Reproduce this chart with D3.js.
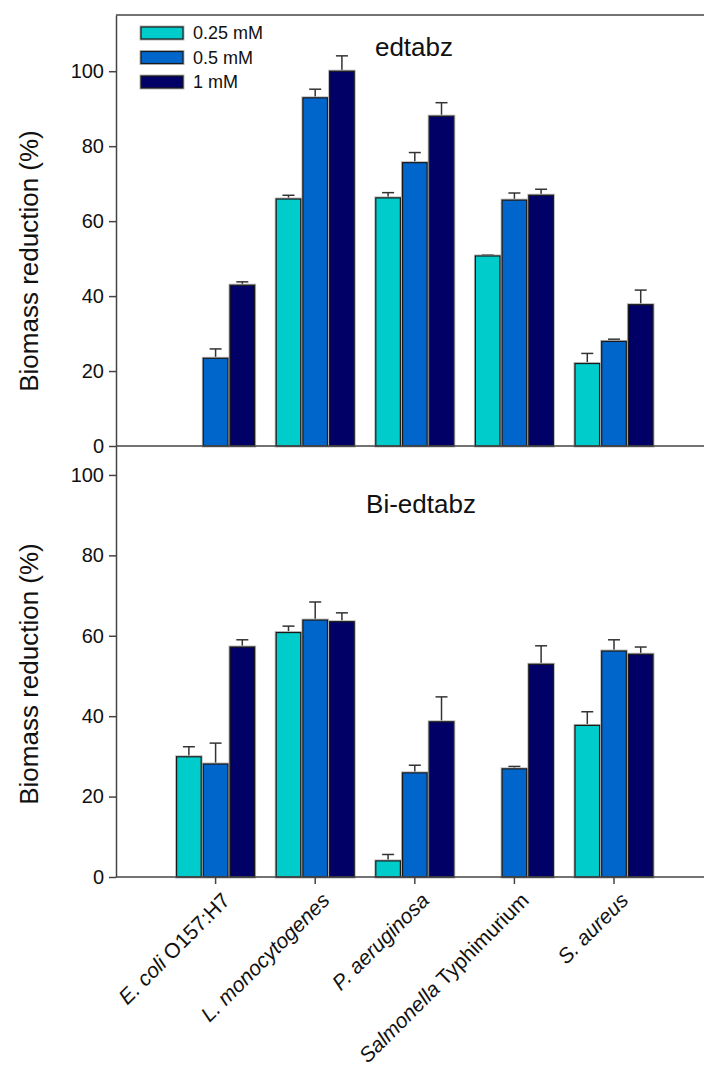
<!DOCTYPE html>
<html>
<head>
<meta charset="utf-8">
<script src="https://cdn.jsdelivr.net/npm/d3@7"></script>
<style>
  html, body { margin: 0; padding: 0; background: #fff; }
  svg { display: block; font-family: Arial, "Liberation Sans", sans-serif; }
</style>
</head>
<body>
<svg id="chart" width="704" height="1070"></svg>
<script>
// Bacterial strains (label split into italic / upright parts)
const strains = ["E. coli O157:H7", "L. monocytogenes", "P. aeruginosa", "Salmonella Typhimurium", "S. aureus"];
const strainItalic = ["E. coli", "L. monocytogenes", "P. aeruginosa", "Salmonella", "S. aureus"];
const strainUpright = [" O157:H7", "", "", " Typhimurium", ""];

// Concentrations
const concentrations = ["0.25 mM", "0.5 mM", "1 mM"];
const colors = ["#00CCCC", "#0066CC", "#000066"];

// edtabz — biomass reduction (%) and error
const edtabz025 = [null, 65.9, 66.2, 50.7, 22.0];
const edtabz05  = [23.4, 92.9, 75.6, 65.6, 27.9];
const edtabz1   = [42.9, 100.0, 88.0, 66.9, 37.7];
const edtabz025Err = [null, 1.0, 1.4, 0.3, 2.7];
const edtabz05Err  = [2.5, 2.3, 2.7, 1.9, 0.6];
const edtabz1Err   = [0.9, 4.1, 3.6, 1.6, 3.9];

// Bi-edtabz — biomass reduction (%) and error
const bi025 = [29.9, 60.8, 4.0, null, 37.7];
const bi05  = [28.1, 63.9, 25.9, 26.9, 56.2];
const bi1   = [57.2, 63.5, 38.6, 52.9, 55.4];
const bi025Err = [2.5, 1.6, 1.6, null, 3.4];
const bi05Err  = [5.2, 4.5, 1.9, 0.6, 2.8];
const bi1Err   = [1.8, 2.2, 6.2, 4.6, 1.8];

const yTicks = [0, 20, 40, 60, 80, 100];

const svg = d3.select("#chart");
const left = 116, right = 704;

const x = d3.scaleLinear().domain([0, 6]).range([left, 713.6]);
const inner = d3.scaleBand().domain(concentrations).range([-39, 39]).paddingInner(0.08);

function panel(cfg) {
  const y = d3.scaleLinear().domain([0, cfg.yMax]).range([cfg.bottom, cfg.top]);
  const g = svg.append("g");

  const series = concentrations.map((c, k) => ({
    name: c, color: colors[k], values: cfg.values[k], errs: cfg.errs[k]
  }));

  const rows = [];
  series.forEach(s => s.values.forEach((v, i) => {
    if (v !== null) rows.push({ i, v, e: s.errs[i], s });
  }));

  // error bars (upper half only)
  const eb = g.append("g").attr("stroke", "#333").attr("stroke-width", 1.5);
  rows.forEach(d => {
    const cx = x(d.i + 1) + inner(d.s.name) + inner.bandwidth() / 2;
    eb.append("line").attr("x1", cx).attr("x2", cx).attr("y1", y(d.v)).attr("y2", y(d.v + d.e));
    eb.append("line").attr("x1", cx - 6).attr("x2", cx + 6).attr("y1", y(d.v + d.e)).attr("y2", y(d.v + d.e));
  });

  // bars: soft grey halo under a dark outline
  const bars = g.append("g");
  bars.selectAll("rect.halo").data(rows).join("rect")
    .attr("class", "halo")
    .attr("x", d => x(d.i + 1) + inner(d.s.name))
    .attr("y", d => y(d.v))
    .attr("width", inner.bandwidth())
    .attr("height", d => y(0) - y(d.v))
    .attr("fill", "none").attr("stroke", "#b8b8b8").attr("stroke-width", 3);
  bars.selectAll("rect.bar").data(rows).join("rect")
    .attr("class", "bar")
    .attr("x", d => x(d.i + 1) + inner(d.s.name))
    .attr("y", d => y(d.v))
    .attr("width", inner.bandwidth())
    .attr("height", d => y(0) - y(d.v))
    .attr("fill", d => d.s.color).attr("stroke", "#1a1a1a").attr("stroke-width", 1.2);

  // y axis
  const ya = g.append("g").attr("transform", `translate(${left},0)`)
    .call(d3.axisLeft(y).tickValues(yTicks).tickSize(7).tickPadding(5).tickSizeOuter(0));
  ya.select(".domain").attr("stroke", "#444").attr("stroke-width", 1.5);
  ya.selectAll(".tick line").attr("stroke", "#444").attr("stroke-width", 1.5);
  ya.selectAll(".tick text").attr("font-size", 20).attr("fill", "#111")
    .attr("font-family", "Arial, 'Liberation Sans', sans-serif");

  // baseline
  g.append("line").attr("x1", left).attr("x2", right).attr("y1", cfg.bottom).attr("y2", cfg.bottom)
    .attr("stroke", "#444").attr("stroke-width", 1.5);

  // title
  g.append("text").attr("x", cfg.titleX).attr("y", cfg.titleY).attr("text-anchor", "middle")
    .attr("font-size", 26).attr("fill", "#111").text(cfg.title);

  // y-axis label
  g.append("text")
    .attr("transform", `translate(38,${cfg.labelY}) rotate(-90)`)
    .attr("text-anchor", "middle").attr("font-size", 26).attr("fill", "#111")
    .text("Biomass reduction (%)");

  return { y, g };
}

// top panel frame line
svg.append("line").attr("x1", left).attr("x2", right).attr("y1", 15).attr("y2", 15)
  .attr("stroke", "#444").attr("stroke-width", 1.5);

panel({
  top: 15, bottom: 446, yMax: 115,
  values: [edtabz025, edtabz05, edtabz1],
  errs: [edtabz025Err, edtabz05Err, edtabz1Err],
  title: "edtabz", titleX: 414, titleY: 56, labelY: 261
});

panel({
  top: 446, bottom: 877, yMax: 107.2,
  values: [bi025, bi05, bi1],
  errs: [bi025Err, bi05Err, bi1Err],
  title: "Bi-edtabz", titleX: 421, titleY: 513, labelY: 674
});

// x ticks + rotated strain labels
const xa = svg.append("g");
strains.forEach((s, i) => {
  const cx = x(i + 1);
  xa.append("line").attr("x1", cx).attr("x2", cx).attr("y1", 877).attr("y2", 884)
    .attr("stroke", "#444").attr("stroke-width", 1.5);
  const t = xa.append("text")
    .attr("transform", `translate(${cx + 5},${891}) rotate(-45)`)
    .attr("text-anchor", "end").attr("dy", "0.72em")
    .attr("font-size", 21).attr("fill", "#111");
  t.append("tspan").attr("font-style", "italic").text(strainItalic[i]);
  if (strainUpright[i]) t.append("tspan").text(strainUpright[i]);
});

// legend
const lg = svg.append("g");
concentrations.forEach((c, k) => {
  const cy = 33 + k * 24.5;
  lg.append("rect").attr("x", 141).attr("y", cy - 6).attr("width", 42).attr("height", 12)
    .attr("fill", "none").attr("stroke", "#b8b8b8").attr("stroke-width", 3);
  lg.append("rect").attr("x", 141).attr("y", cy - 6).attr("width", 42).attr("height", 12)
    .attr("fill", colors[k]).attr("stroke", "#1a1a1a").attr("stroke-width", 1.2);
  lg.append("text").attr("x", 193).attr("y", cy).attr("dy", "0.36em")
    .attr("font-size", 18).attr("fill", "#111").text(c);
});
</script>
</body>
</html>
